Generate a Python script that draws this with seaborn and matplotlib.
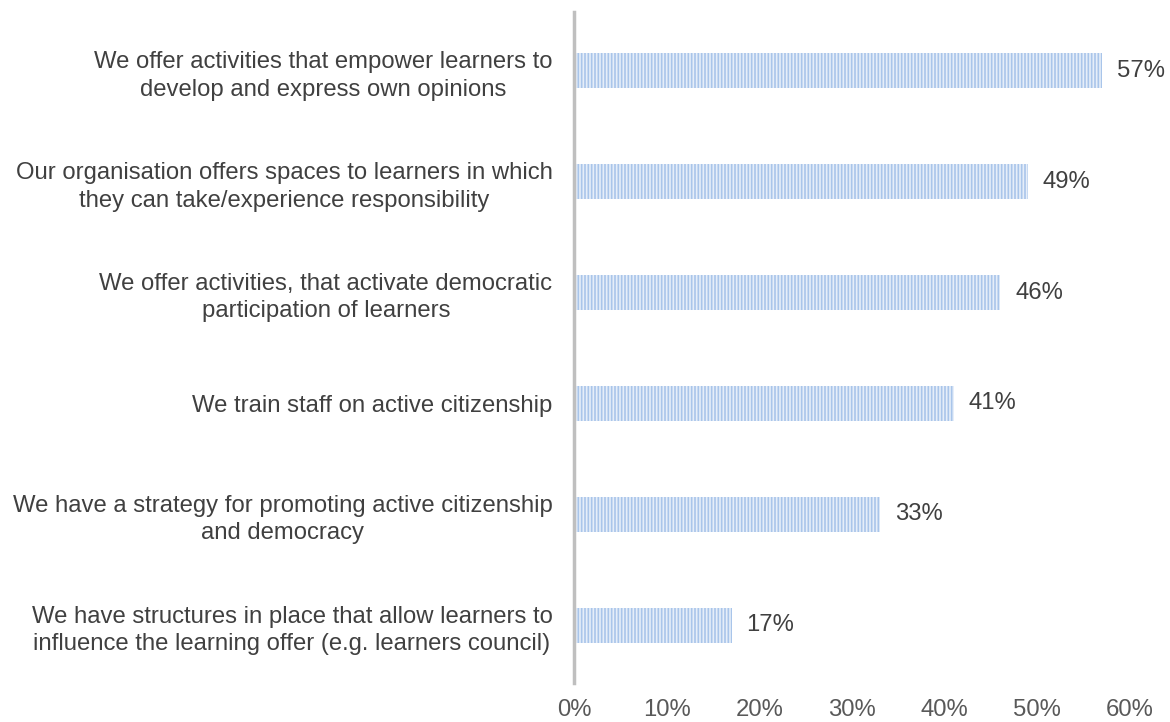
import matplotlib
matplotlib.use("Agg")
import matplotlib.pyplot as plt
import seaborn as sns
import pandas as pd

categories = [
    "We offer activities that empower learners to\ndevelop and express own opinions",
    "Our organisation offers spaces to learners in which\nthey can take/experience responsibility",
    "We offer activities, that activate democratic\nparticipation of learners",
    "We train staff on active citizenship",
    "We have a strategy for promoting active citizenship\nand democracy",
    "We have structures in place that allow learners to\ninfluence the learning offer (e.g. learners council)",
]
values = [57, 49, 46, 41, 33, 17]
x_ticks = [0, 10, 20, 30, 40, 50, 60]

sns.set_theme(style="white")
plt.rcParams["font.family"] = ["Liberation Sans", "DejaVu Sans"]
plt.rcParams["hatch.linewidth"] = 1.2

FS = 17.2
df = pd.DataFrame({"item": categories, "share": values})

fig = plt.figure(figsize=(11.7, 7.22), dpi=100)
ax = fig.add_axes([0.4906, 0.057, 0.4752, 0.922])

sns.barplot(data=df, x="share", y="item", orient="h", ax=ax,
            color="#e6eef9", width=0.32, linewidth=0, saturation=1)
for p in ax.patches:
    p.set_hatch("|||||")
    p.set_edgecolor("#a9c5ea")
    p.set_linewidth(0)

for p, v in zip(ax.patches, values):
    ax.text(p.get_width() + 1.6, p.get_y() + p.get_height() / 2, f"{v}%",
            va="center", ha="left", fontsize=FS, color="#404040")

ax.set_xlim(0, 60)
ax.set_ylim(5.5, -0.5)
ax.set_xticks(x_ticks)
ax.set_xticklabels([f"{t}%" for t in x_ticks], fontsize=FS, color="#595959")
ax.tick_params(axis="x", length=0, pad=13)
ax.tick_params(axis="y", length=0, pad=15.5, labelsize=FS, labelcolor="#404040")
for lbl in ax.get_yticklabels():
    lbl.set_horizontalalignment("right")
    lbl.set_multialignment("center")
    lbl.set_linespacing(1.32)
ax.set_xlabel("")
ax.set_ylabel("")
for s in ["top", "right", "bottom"]:
    ax.spines[s].set_visible(False)
ax.spines["left"].set_color("#bfbfbf")
ax.spines["left"].set_linewidth(2.5)
ax.spines["left"].set_bounds(5.52, -0.53)

fig.savefig("out.png", dpi=100)
